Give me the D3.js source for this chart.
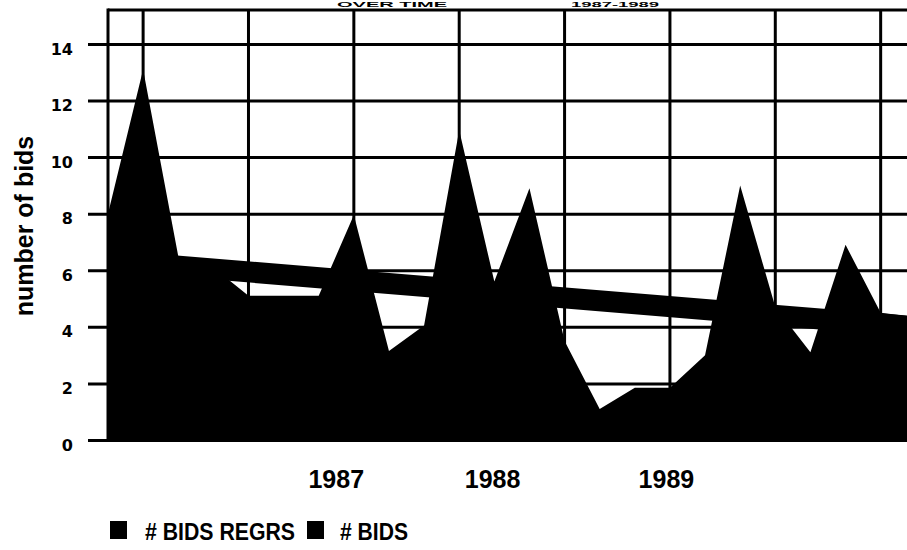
<!DOCTYPE html>
<html>
<head>
<meta charset="utf-8">
<script src="https://cdn.jsdelivr.net/npm/d3@7"></script>
<style>
  html, body { margin: 0; padding: 0; background: #fff; }
  svg { display: block; }
</style>
</head>
<body>
<svg id="chart" width="907" height="550"></svg>
<script>
// ---- data ----
const bidIndex = [0,1,2,3,4,5,6,7,8,9,10,11,12,13,14,15,16,17,18,19,20,21,22,23];
const bids     = [8.0,13.1,6.5,6.1,5.1,5.1,5.1,7.95,3.15,4.05,10.95,5.6,8.9,3.5,1.1,1.85,1.85,3.0,9.0,4.7,3.1,6.9,4.5,4.35];
const regrsIndex  = [0, 23];
const regrsValues = [6.35, 4.0];
const yTicks = [0,2,4,6,8,10,12,14];
const gridIndex = [1,4,7,10,13,16,19,22];
const xLabels = ["1987","1988","1989"];
const xLabelIndex = [6.5, 10.95, 15.9];
const yTitle = "number of bids";
const legendLabels = ["# BIDS REGRS", "# BIDS"];
const titleParts = ["OVER TIME", "1987-1989"];

(function () {
  // ---- layout ----
  const svg = d3.select("#chart");
  const W = 907, H = 550;
  const pL = 108, pR = 907, pT = 10, pB = 440;

  svg.append("rect").attr("width", W).attr("height", H).attr("fill", "#fff");

  const x = d3.scaleLinear().domain([0, 22.75]).range([pL, pR]);
  const y = d3.scaleLinear().domain([0, 15.2]).range([pB, pT]);

  svg.append("defs").append("clipPath").attr("id", "plotclip")
    .append("rect").attr("x", pL).attr("y", pT - 2).attr("width", pR - pL).attr("height", pB - pT + 2);

  // horizontal gridlines with tick labels via axis
  const yAxis = d3.axisLeft(y).tickValues(yTicks).tickSize(-(pR - pL)).tickPadding(35).tickFormat(d3.format("d"));
  const gy = svg.append("g").attr("transform", `translate(${pL},0)`).call(yAxis);
  gy.select(".domain").remove();
  gy.selectAll(".tick line").attr("x1", -20).attr("stroke", "#000").attr("stroke-width", 3);
  gy.selectAll(".tick text")
    .attr("font-family", "DejaVu Sans, sans-serif").attr("font-weight", "bold")
    .attr("font-size", 16).attr("fill", "#000").attr("dy", "0.32em")
    .attr("transform", "translate(0,5)");

  // vertical gridlines
  svg.append("g").selectAll("line").data(gridIndex).join("line")
    .attr("x1", d => x(d)).attr("x2", d => x(d))
    .attr("y1", pT).attr("y2", pB)
    .attr("stroke", "#000").attr("stroke-width", 3);

  // frame: left axis and top border
  svg.append("line").attr("x1", pL).attr("x2", pL).attr("y1", pT - 1.5).attr("y2", pB)
    .attr("stroke", "#000").attr("stroke-width", 3);
  svg.append("line").attr("x1", pL).attr("x2", pR).attr("y1", pT).attr("y2", pT)
    .attr("stroke", "#000").attr("stroke-width", 3);

  const plot = svg.append("g").attr("clip-path", "url(#plotclip)");

  // # BIDS area
  const bidData = bidIndex.map((d, i) => ({ i: d, v: bids[i] }));
  const area = d3.area().x(d => x(d.i)).y0(y(0)).y1(d => y(d.v)).curve(d3.curveLinear);
  plot.append("path").datum(bidData).attr("d", area).attr("fill", "#000");

  // # BIDS REGRS line (thick band)
  const regrsData = regrsIndex.map((d, i) => ({ i: d, v: regrsValues[i] }));
  const line = d3.line().x(d => x(d.i)).y(d => y(d.v));
  plot.append("path").datum(regrsData).attr("d", line)
    .attr("fill", "none").attr("stroke", "#000").attr("stroke-width", 21);

  // x labels
  svg.append("g").selectAll("text").data(xLabels).join("text")
    .attr("x", (d, i) => x(xLabelIndex[i])).attr("y", 488)
    .attr("text-anchor", "middle")
    .attr("font-family", "Liberation Sans, Arial, sans-serif").attr("font-weight", "bold")
    .attr("font-size", 25).attr("fill", "#000")
    .text(d => d);

  // y title
  svg.append("text")
    .attr("transform", "translate(33,226) rotate(-90)")
    .attr("text-anchor", "middle")
    .attr("font-family", "Liberation Sans, Arial, sans-serif").attr("font-weight", "bold")
    .attr("font-size", 25).attr("fill", "#000")
    .text(yTitle);

  // title remnants at the very top (only a thin strip is visible in the reference)
  const titleX = [392, 615], titleLen = [110, 88];
  svg.append("g").selectAll("text").data(titleParts).join("text")
    .attr("x", (d, i) => titleX[i]).attr("y", 7)
    .attr("text-anchor", "middle")
    .attr("textLength", (d, i) => titleLen[i]).attr("lengthAdjust", "spacingAndGlyphs")
    .attr("font-family", "Liberation Sans, Arial, sans-serif").attr("font-weight", "bold")
    .attr("font-size", 8).attr("fill", "#000")
    .text(d => d);

  // legend
  const legX = [110, 307], legTextX = [145, 340], legLen = [150, 68];
  const leg = svg.append("g");
  leg.selectAll("rect").data(legendLabels).join("rect")
    .attr("x", (d, i) => legX[i]).attr("y", 521).attr("width", 17).attr("height", 18)
    .attr("fill", "#000");
  leg.selectAll("text").data(legendLabels).join("text")
    .attr("x", (d, i) => legTextX[i]).attr("y", 540)
    .attr("textLength", (d, i) => legLen[i]).attr("lengthAdjust", "spacingAndGlyphs")
    .attr("font-family", "Liberation Sans, Arial, sans-serif").attr("font-weight", "bold")
    .attr("font-size", 24).attr("fill", "#000")
    .text(d => d);
})();
</script>
</body>
</html>
